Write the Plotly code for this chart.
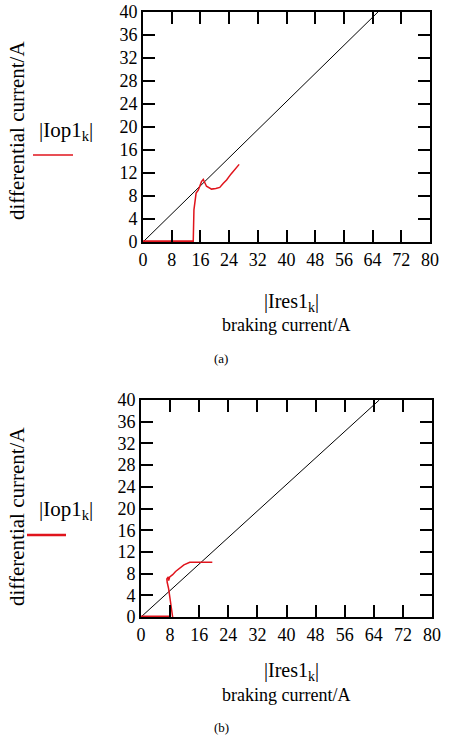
import plotly.graph_objects as go

W, H = 451, 739

# ---- data ----
x_ticks = [0, 8, 16, 24, 32, 40, 48, 56, 64, 72, 80]
y_ticks = [0, 4, 8, 12, 16, 20, 24, 28, 32, 36, 40]

# reference (restraint) line, same in both panels
ref_x = [0, 65.5]
ref_y = [0, 40]

# panel (a)
a_zero_x = [0, 14.0]
a_zero_y = [0, 0]
a_x = [14.0, 14.0, 14.2, 14.8, 15.4, 16.3, 16.8, 17.7, 19.1, 20.3, 21.4, 22.4, 23.3, 24.5, 25.6, 26.8]
a_y = [0.0, 3.0, 5.6, 8.5, 9.0, 10.5, 10.9, 9.7, 9.2, 9.3, 9.5, 10.2, 10.8, 11.8, 12.6, 13.5]

# panel (b)
b_zero_x = [0, 8.2]
b_zero_y = [0, 0]
b_x = [8.7, 8.2, 7.6, 7.2, 7.1, 7.5, 7.6, 7.9, 8.7, 9.5, 10.5, 11.8, 13.4, 16.0, 19.6]
b_y = [0.0, 2.5, 5.2, 6.4, 7.0, 7.4, 6.7, 7.4, 7.8, 8.4, 9.0, 9.6, 10.1, 10.1, 10.1]

FONT = "Liberation Serif, DejaVu Serif, serif"
RED = "#e0141c"


def px(x):
    return x / W


def py(y):
    return 1 - y / H


fig = go.Figure()

# panel a traces
fig.add_trace(go.Scatter(x=ref_x, y=ref_y, mode="lines", line=dict(color="black", width=1),
                         xaxis="x", yaxis="y", showlegend=False))
fig.add_trace(go.Scatter(x=a_zero_x, y=a_zero_y, mode="lines", line=dict(color=RED, width=3.5),
                         xaxis="x", yaxis="y", showlegend=False, cliponaxis=False))
fig.add_trace(go.Scatter(x=a_x, y=a_y, mode="lines", line=dict(color=RED, width=1.5),
                         xaxis="x", yaxis="y", showlegend=False))

# panel b traces
fig.add_trace(go.Scatter(x=ref_x, y=ref_y, mode="lines", line=dict(color="black", width=1),
                         xaxis="x2", yaxis="y2", showlegend=False))
fig.add_trace(go.Scatter(x=b_zero_x, y=b_zero_y, mode="lines", line=dict(color=RED, width=3),
                         xaxis="x2", yaxis="y2", showlegend=False, cliponaxis=False))
fig.add_trace(go.Scatter(x=b_x, y=b_y, mode="lines", line=dict(color=RED, width=1.5),
                         xaxis="x2", yaxis="y2", showlegend=False))

ax_common = dict(
    showline=True, linecolor="black", linewidth=2, mirror="ticks",
    ticks="inside", ticklen=12, tickwidth=1.5, tickcolor="black",
    showgrid=False, zeroline=False, automargin=False,
    tickfont=dict(family=FONT, size=18, color="black"),
)

fig.update_layout(
    width=W, height=H,
    margin=dict(l=0, r=0, t=0, b=0),
    paper_bgcolor="white", plot_bgcolor="white",
    font=dict(family=FONT, color="black"),
    xaxis=dict(domain=[px(143), px(430)], range=[0, 80], tickvals=x_ticks, anchor="y", **ax_common),
    yaxis=dict(domain=[py(242), py(12)], range=[0, 40], tickvals=y_ticks, anchor="x", **ax_common),
    xaxis2=dict(domain=[px(141), px(432)], range=[0, 80], tickvals=x_ticks, anchor="y2", **ax_common),
    yaxis2=dict(domain=[py(617), py(400)], range=[0, 40], tickvals=y_ticks, anchor="x2", **ax_common),
)

ann = []
shapes = []
for (ytitle, yleg, yline, ylab1, ylab2, ycap, cap, lw) in [
    (131, 131, 155, 302, 325, 358, "(a)", 1),
    (517, 510, 535, 671, 695, 727, "(b)", 2),
]:
    ann.append(dict(x=px(17), y=py(ytitle), xref="paper", yref="paper", text="differential current/A",
                    textangle=-90, showarrow=False, font=dict(family=FONT, size=21, color="black"),
                    xanchor="center", yanchor="middle"))
    ann.append(dict(x=px(66), y=py(yleg), xref="paper", yref="paper", text="|Iop1<sub>k</sub>|",
                    showarrow=False, font=dict(family=FONT, size=21, color="black"),
                    xanchor="center", yanchor="middle"))
    ann.append(dict(x=px(291), y=py(ylab1), xref="paper", yref="paper", text="|Ires1<sub>k</sub>|",
                    showarrow=False, font=dict(family=FONT, size=20, color="black"),
                    xanchor="center", yanchor="middle"))
    ann.append(dict(x=px(286), y=py(ylab2), xref="paper", yref="paper", text="braking current/A",
                    showarrow=False, font=dict(family=FONT, size=18, color="black"),
                    xanchor="center", yanchor="middle"))
    ann.append(dict(x=px(221), y=py(ycap), xref="paper", yref="paper", text=cap,
                    showarrow=False, font=dict(family=FONT, size=13, color="black"),
                    xanchor="center", yanchor="middle"))
    shapes.append(dict(type="line", xref="paper", yref="paper",
                       x0=px(33 if lw == 1 else 27), x1=px(73 if lw == 1 else 66), y0=py(yline), y1=py(yline),
                       line=dict(color=RED, width=lw + 0.5)))

fig.update_layout(annotations=ann, shapes=shapes)

fig.write_html("out.html")
